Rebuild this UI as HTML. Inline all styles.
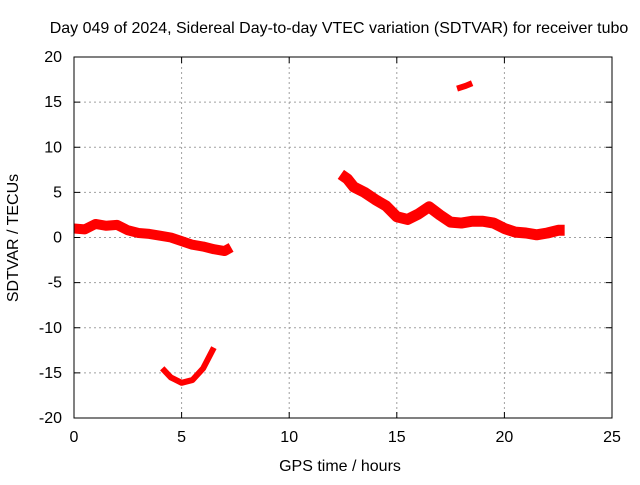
<!DOCTYPE html>
<html><head><meta charset="utf-8"><style>
body{margin:0;background:#fff;font-family:"Liberation Sans",sans-serif;}
svg text{font-family:"Liberation Sans",sans-serif;font-size:16px;fill:#000;}
</style></head><body>
<svg id="chart" width="640" height="480"></svg>
<script>
const xTicks=[0,5,10,15,20,25];
const yTicks=[-20,-15,-10,-5,0,5,10,15,20];
const seg1X=[0,0.5,1,1.5,2,2.5,3,3.5,4,4.5,5,5.5,6,6.5,7,7.3];
const seg1Y=[1.0,0.9,1.5,1.3,1.4,0.8,0.5,0.4,0.2,0.0,-0.4,-0.8,-1.0,-1.3,-1.5,-1.1];
const seg2X=[12.4,12.7,13,13.5,14,14.5,15,15.5,16,16.5,17,17.5,18,18.5,19,19.5,20,20.5,21,21.5,22,22.5,22.8];
const seg2Y=[7.0,6.5,5.6,5.0,4.2,3.5,2.3,2.0,2.6,3.4,2.5,1.7,1.6,1.8,1.8,1.6,1.0,0.6,0.5,0.3,0.5,0.8,0.8];
const seg3X=[4.1,4.5,5,5.5,6,6.5];
const seg3Y=[-14.5,-15.5,-16.1,-15.8,-14.5,-12.2];
const seg4X=[17.8,18.2,18.5];
const seg4Y=[16.5,16.8,17.1];
const L=74,R=612,T=57,B=418;
const sx=v=>L+(v-0)/(25-0)*(R-L);
const sy=v=>B-(v+20)/40*(B-T);
const svg=document.getElementById('chart');
const NS='http://www.w3.org/2000/svg';
function mk(t,a){const e=document.createElementNS(NS,t);for(const k in a)e.setAttribute(k,a[k]);svg.appendChild(e);return e;}
xTicks.forEach(v=>{
 if(v>0&&v<25){const g=mk('line',{x1:sx(v),x2:sx(v),y1:T,y2:B,stroke:'#a0a0a0','stroke-dasharray':'2,3'});
 
 }
 const t=mk('text',{x:sx(v),y:B+24,'text-anchor':'middle'});t.textContent=v;
 
 
 mk('line',{x1:sx(v),x2:sx(v),y1:B,y2:B-6,stroke:'#000'});mk('line',{x1:sx(v),x2:sx(v),y1:T,y2:T+6,stroke:'#000'});
});
yTicks.forEach(v=>{
 if(v>-20&&v<20){const g=mk('line',{x1:L,x2:R,y1:sy(v),y2:sy(v),stroke:'#a0a0a0','stroke-dasharray':'2,3'});
 
 }
 const t=mk('text',{x:L-12,y:sy(v)+5,'text-anchor':'end'});t.textContent=v;
 
 
 mk('line',{x1:L,x2:L+6,y1:sy(v),y2:sy(v),stroke:'#000'});mk('line',{x1:R,x2:R-6,y1:sy(v),y2:sy(v),stroke:'#000'});
});
function seg(xs,ys,w,name){
 const p=mk('polyline',{points:xs.map((x,i)=>sx(x)+','+sy(ys[i])).join(' '),fill:'none',stroke:'#ff0000','stroke-width':w,'stroke-linejoin':'round','stroke-linecap':'butt'});
 
 
}
seg(seg1X,seg1Y,10,'series-segment-1');
seg(seg2X,seg2Y,11,'series-segment-2');
seg(seg3X,seg3Y,6,'series-segment-3');
seg(seg4X,seg4Y,6,'series-segment-4');
const f=mk('rect',{x:L,y:T,width:R-L,height:B-T,fill:'none',stroke:'#000'});


const tt=mk('text',{x:339,y:33,'text-anchor':'middle'});tt.textContent='Day 049 of 2024, Sidereal Day-to-day VTEC variation (SDTVAR) for receiver tubo';


const xt=mk('text',{x:340,y:471,'text-anchor':'middle'});xt.textContent='GPS time / hours';


const yt=mk('text',{x:18,y:238,'text-anchor':'middle',transform:'rotate(-90 18 238)'});yt.textContent='SDTVAR / TECUs';


</script>
</body></html>
